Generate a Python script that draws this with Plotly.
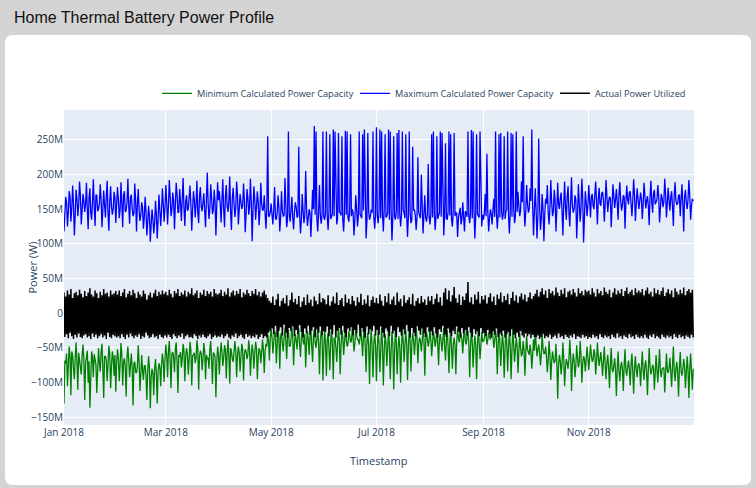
import pandas as pd
import plotly.graph_objects as go

PAGE_TITLE = "Home Thermal Battery Power Profile"
SERIES_NAMES = ["Minimum Calculated Power Capacity",
                "Maximum Calculated Power Capacity",
                "Actual Power Utilized"]
X_TITLE = "Timestamp"
Y_TITLE = "Power (W)"

# Maximum calculated power capacity, MW, reading at 00:00 each day (Jan .. Dec 2018)
max_capacity_mw = [
    118,168,125,176,132,184,112,178,140,190,128,172,146,188,121,180,135,193,126,170,150,186,124,177,138,191,119,183,142,175,130,
    182,137,189,124,176,148,194,129,171,140,187,118,179,133,160,122,168,112,155,103,150,115,162,108,171,126,180,132,
    185,128,192,140,174,121,188,145,179,133,195,126,170,150,184,119,176,138,191,130,182,147,173,124,203,136,186,143,178,112,189,
    176,131,193,124,185,146,197,120,181,139,190,128,172,150,187,117,179,142,194,104,183,135,176,127,188,148,170,122,255,140,
    158,128,182,135,170,118,176,140,195,124,262,132,168,121,160,138,240,115,172,130,205,126,150,110,178,270,262,118,185,129,262,
    135,262,120,258,140,265,262,128,260,145,255,118,263,262,132,258,150,112,170,125,262,140,258,265,108,260,135,150,262,122,
    268,130,265,262,118,258,140,265,262,105,255,135,260,264,125,262,145,258,110,262,130,240,150,120,225,138,200,115,170,132,215,
    128,258,262,120,255,140,262,260,112,245,135,262,258,125,260,145,110,150,128,160,118,145,262,130,264,262,108,258,140,262,125,
    135,172,230,118,150,128,165,262,122,258,260,135,255,148,262,115,260,258,130,262,175,140,190,255,125,185,145,180,265,112,
    180,108,252,120,172,104,165,185,128,192,140,178,118,188,150,174,112,190,135,183,125,196,145,170,108,186,132,194,102,176,140,
    185,138,172,150,190,128,181,155,175,132,192,146,168,124,186,152,179,135,189,148,170,122,184,157,176,140,193,133,180,150,
    174,136,188,151,169,127,191,145,178,160,185,131,172,153,194,138,181,148,176,126,189,157,170,140,186,118,178,150,192,135,165,
]
# Maximum calculated power capacity, MW, reading at 12:00 each day
max_capacity_noon_mw = [
    152,160,145,168,150,158,142,165,155,170,148,162,157,150,166,145,160,153,171,147,158,164,149,156,168,143,161,154,150,167,158,
    163,149,158,170,146,160,155,167,151,144,162,157,148,141,153,138,146,132,140,128,136,130,142,135,150,147,158,152,
    160,155,168,149,162,157,171,146,159,165,152,161,148,167,156,150,163,158,145,169,154,160,147,164,158,151,166,149,161,155,163,
    157,164,150,168,155,161,147,166,158,152,170,149,160,156,163,145,167,154,159,150,165,153,161,148,158,150,144,152,140,146,
    142,150,137,145,152,139,147,141,155,136,144,149,138,146,153,140,143,135,148,141,151,137,145,139,150,142,136,147,140,144,138,
    145,139,148,136,143,140,150,137,146,141,135,149,142,138,147,140,144,136,151,139,143,137,148,141,134,146,140,145,138,143,
    140,146,137,143,150,138,145,135,148,141,139,147,136,144,142,149,137,143,140,146,135,148,141,139,145,137,150,142,138,144,140,
    143,138,147,140,136,145,139,150,142,137,146,141,135,148,140,144,138,152,136,143,147,139,141,145,137,149,140,143,138,146,142,
    145,140,148,137,143,150,139,146,141,138,147,144,136,149,142,145,139,151,140,146,155,148,160,152,147,158,150,162,154,149,
    148,140,155,136,150,142,158,145,152,160,147,163,150,157,166,148,159,153,168,146,161,155,150,164,142,158,152,166,140,160,155,
    162,168,155,171,160,165,158,173,163,157,169,161,166,154,170,164,159,172,162,156,168,160,165,174,158,163,170,157,166,161,
    165,158,170,162,155,168,160,173,157,164,169,156,166,161,172,159,163,167,154,170,162,158,171,165,157,168,160,164,169,155,162,
]

# Minimum calculated power capacity, MW, reading at 00:00 each day
min_capacity_mw = [
    -130,-72,-105,-48,-118,-60,-95,-42,-110,-66,-88,-45,-125,-58,-100,-136,-55,-92,-70,-115,-50,-84,-44,-122,-62,-98,-47,-108,-55,-90,-113,
    -52,-98,-43,-104,-65,-120,-48,-92,-58,-133,-70,-86,-46,-112,-60,-96,-75,-125,-62,-137,-80,-118,-66,-130,-72,-105,-58,-99,
    -45,-92,-40,-108,-56,-85,-42,-115,-63,-78,-44,-98,-50,-88,-41,-104,-60,-72,-39,-110,-54,-82,-43,-95,-66,-80,-40,-102,-58,-121,-48,
    -88,-42,-76,-46,-94,-38,-101,-55,-70,-40,-92,-48,-84,-44,-97,-52,-66,-39,-90,-45,-80,-41,-95,-50,-72,-38,-86,-44,-30,-68,
    -22,-58,-25,-72,-20,-80,-28,-55,-21,-66,-24,-48,-20,-75,-30,-52,-22,-63,-20,-45,-78,-26,-60,-21,-70,-23,-50,-20,-88,-25,-97,
    -22,-90,-28,-82,-20,-95,-35,-70,-21,-88,-24,-60,-20,-48,-26,-42,-20,-55,-23,-38,-45,-21,-62,-20,-85,-28,-102,-22,-92,-30,
    -98,-24,-85,-20,-104,-30,-76,-22,-95,-26,-110,-21,-88,-33,-100,-20,-70,-25,-96,-22,-84,-28,-60,-20,-72,-35,-55,-21,-90,-27,-48,
    -22,-62,-26,-48,-20,-75,-30,-55,-21,-68,-24,-86,-20,-80,-35,-88,-22,-42,-28,-58,-20,-45,-25,-92,-21,-78,-32,-95,-20,-66,-27,
    -40,-22,-45,-28,-38,-20,-50,-24,-88,-21,-76,-30,-93,-20,-84,-26,-95,-22,-70,-35,-86,-28,-62,-40,-90,-32,-58,-45,-80,-38,
    -25,-62,-45,-75,-30,-58,-48,-85,-40,-96,-55,-72,-44,-123,-60,-88,-42,-105,-66,-80,-38,-112,-58,-92,-46,-78,-40,-100,-62,-84,-48,
    -82,-45,-70,-52,-88,-42,-76,-56,-90,-48,-95,-60,-108,-50,-85,-65,-119,-55,-98,-70,-112,-52,-90,-68,-104,-58,-116,-62,-92,-72,
    -105,-55,-96,-68,-118,-50,-88,-74,-110,-60,-100,-52,-92,-78,-114,-58,-86,-64,-106,-48,-98,-70,-120,-56,-90,-66,-108,-62,-122,-58,-110,
]
# Minimum calculated power capacity, MW, reading at 12:00 each day
min_capacity_noon_mw = [
    -68,-58,-75,-62,-55,-80,-64,-70,-57,-78,-61,-66,-72,-54,-69,-76,-63,-59,-74,-65,-71,-56,-79,-62,-67,-73,-58,-77,-64,-60,-70,
    -66,-74,-59,-70,-78,-63,-68,-75,-80,-72,-85,-77,-70,-88,-82,-76,-90,-84,-79,-92,-86,-80,-88,-83,-78,-74,-70,-66,
    -62,-55,-68,-58,-64,-52,-70,-60,-56,-66,-54,-63,-59,-67,-53,-61,-57,-65,-50,-62,-58,-66,-55,-60,-64,-52,-68,-57,-63,-70,-59,
    -60,-55,-64,-52,-58,-62,-50,-66,-56,-54,-61,-57,-63,-51,-59,-55,-60,-53,-62,-56,-58,-50,-64,-54,-57,-52,-55,-48,-40,-36,
    -35,-42,-30,-46,-38,-33,-44,-36,-40,-31,-47,-37,-34,-43,-39,-32,-45,-36,-41,-30,-44,-38,-35,-48,-33,-42,-37,-45,-40,-34,-50,
    -45,-38,-52,-41,-48,-36,-50,-43,-39,-47,-34,-42,-37,-44,-32,-40,-35,-43,-31,-38,-36,-42,-33,-46,-40,-48,-44,-51,-42,-47,
    -50,-44,-53,-46,-55,-42,-51,-47,-54,-45,-56,-43,-52,-48,-50,-41,-46,-44,-49,-40,-45,-38,-42,-36,-44,-39,-41,-35,-43,-37,-40,
    -38,-43,-35,-40,-45,-37,-42,-36,-46,-39,-48,-44,-50,-45,-47,-41,-36,-33,-38,-35,-40,-32,-44,-47,-42,-50,-45,-49,-43,-46,-41,
    -36,-32,-38,-34,-30,-35,-40,-37,-48,-43,-50,-46,-52,-44,-49,-47,-53,-45,-51,-48,-55,-50,-58,-53,-56,-52,-60,-55,-57,-54,
    -45,-52,-56,-60,-50,-58,-63,-66,-61,-70,-65,-68,-72,-75,-69,-73,-66,-78,-71,-67,-62,-74,-69,-76,-64,-70,-60,-72,-66,-68,-63,
    -64,-60,-67,-58,-70,-62,-66,-72,-68,-75,-71,-78,-74,-80,-76,-82,-79,-84,-77,-81,-75,-83,-78,-80,-73,-85,-79,-82,-76,-80,
    -78,-82,-75,-85,-80,-77,-83,-79,-86,-81,-76,-84,-80,-78,-87,-82,-79,-85,-77,-83,-80,-86,-78,-84,-81,-76,-85,-82,-79,-83,-80,
]

# Actual power utilized, MW: daily peak (read at 00:00) and daily trough (read at 12:00)
actual_high_mw = [
    30,24,33,27,35,22,29,31,26,34,28,23,32,25,30,36,27,24,33,29,22,31,26,35,28,30,24,33,27,29,32,
    27,33,25,30,35,23,28,32,26,34,29,22,31,27,24,33,28,20,26,30,23,29,34,25,31,27,33,28,
    31,26,34,28,23,32,29,35,25,30,27,33,24,31,28,36,26,29,33,22,30,27,34,25,32,28,31,24,35,29,27,
    29,34,25,31,27,36,24,30,33,26,32,28,35,23,30,27,34,29,25,32,28,35,26,31,24,30,33,27,22,18,
    15,24,12,20,28,10,18,22,14,26,11,19,30,16,21,13,25,9,17,23,12,27,15,20,10,24,18,13,29,16,22,
    20,13,26,11,17,24,14,30,12,19,22,10,27,15,21,13,25,18,11,23,16,28,12,20,14,26,10,19,24,15,
    22,14,27,18,11,25,16,29,13,20,24,12,30,17,21,10,26,15,19,23,13,28,11,18,22,14,25,16,20,12,24,
    18,25,13,21,28,16,23,11,30,36,20,33,17,26,38,22,15,27,12,24,19,29,45,16,23,13,27,20,31,14,25,
    20,26,14,23,29,17,24,12,27,21,30,16,25,19,28,13,22,31,18,26,15,24,29,20,27,17,23,30,21,25,
    28,34,24,31,36,27,33,22,35,29,32,26,37,30,25,34,28,36,23,31,33,27,35,30,24,36,29,32,26,34,31,
    33,27,36,30,24,35,29,32,26,37,31,28,34,23,30,36,27,33,29,35,25,32,37,28,31,34,26,36,30,33,
    30,35,26,33,37,28,31,24,36,29,34,27,32,37,25,30,35,28,33,23,36,31,27,34,29,37,26,32,35,30,34,
]
actual_low_mw = [
    -34,-30,-36,-28,-33,-37,-31,-35,-29,-34,-36,-32,-30,-35,-33,-37,-29,-34,-31,-36,-33,-30,-35,-32,-37,-28,-34,-36,-31,-33,-35,
    -33,-36,-30,-34,-37,-31,-35,-29,-33,-36,-32,-34,-30,-37,-33,-35,-28,-32,-36,-34,-30,-35,-33,-37,-31,-34,-36,-32,
    -35,-31,-34,-37,-30,-33,-36,-32,-34,-29,-37,-33,-31,-35,-34,-36,-30,-33,-37,-32,-35,-31,-34,-36,-33,-30,-37,-34,-32,-35,-33,
    -34,-31,-36,-33,-30,-35,-37,-32,-34,-29,-36,-33,-31,-35,-37,-30,-34,-32,-36,-33,-35,-31,-37,-34,-30,-36,-33,-35,-28,-25,
    -22,-30,-18,-34,-25,-20,-32,-16,-28,-35,-21,-26,-19,-33,-24,-30,-17,-27,-35,-22,-29,-18,-31,-25,-20,-34,-23,-28,-19,-32,-26,
    -27,-19,-33,-23,-30,-17,-35,-25,-21,-31,-18,-28,-34,-22,-26,-20,-32,-24,-29,-16,-33,-21,-27,-35,-19,-30,-23,-26,-18,-32,
    -24,-31,-19,-28,-35,-22,-26,-33,-18,-29,-25,-34,-20,-27,-32,-23,-30,-17,-26,-35,-21,-28,-33,-19,-25,-31,-22,-29,-34,-20,-27,
    -26,-32,-20,-29,-35,-23,-27,-18,-31,-34,-22,-28,-33,-25,-30,-19,-27,-35,-21,-29,-24,-32,-20,-28,-34,-23,-30,-26,-33,-21,-29,
    -28,-33,-24,-30,-35,-26,-31,-22,-34,-29,-32,-25,-35,-30,-27,-33,-23,-31,-36,-28,-34,-26,-32,-35,-29,-33,-30,-36,-31,-34,
    -35,-32,-37,-34,-30,-36,-33,-35,-31,-37,-34,-32,-36,-29,-35,-33,-37,-31,-34,-36,-32,-35,-30,-37,-33,-34,-36,-31,-35,-33,-37,
    -34,-36,-31,-35,-33,-37,-30,-34,-36,-32,-35,-33,-37,-31,-34,-36,-29,-35,-33,-37,-32,-34,-36,-30,-35,-33,-37,-31,-34,-36,
    -33,-36,-31,-35,-37,-32,-34,-30,-36,-33,-35,-37,-31,-34,-36,-32,-35,-33,-37,-30,-34,-36,-31,-35,-33,-37,-32,-34,-36,-31,-35,
]

MW = 1e6


def half_daily(first, second):
    """Pair each day's 00:00 reading with its 12:00 reading, in time order."""
    day_index = pd.date_range("2018-01-01", periods=len(first), freq="D")
    t, v = [], []
    for d, a, b in zip(day_index, first, second):
        t += [d, d + pd.Timedelta(hours=12)]
        v += [a * MW, b * MW]
    return t, v


min_t, min_v = half_daily(min_capacity_mw, min_capacity_noon_mw)
max_t, max_v = half_daily(max_capacity_mw, max_capacity_noon_mw)
act_t, act_v = half_daily(actual_high_mw, actual_low_mw)

fig = go.Figure()
fig.add_trace(go.Scatter(x=min_t, y=min_v, mode="lines", name=SERIES_NAMES[0],
                         legendwidth=153, line=dict(color="green", width=1.3)))
fig.add_trace(go.Scatter(x=max_t, y=max_v, mode="lines", name=SERIES_NAMES[1],
                         legendwidth=155, line=dict(color="blue", width=1.3)))
fig.add_trace(go.Scatter(x=act_t, y=act_v, mode="lines", name=SERIES_NAMES[2],
                         line=dict(color="black", width=1.5)))

# page geometry (pixels)
W, H = 756, 488
ML, MR, MT, MB = 64, 62, 110, 63
PW, PH = W - ML - MR, H - MT - MB


def fx(px):
    return (px - ML) / PW


def fy(py):
    return (H - MB - py) / PH


# white rounded card on grey page
cx0, cx1, cy0, cy1, r = 5, 751, 35, 485, 8
rx, ry = r / PW, r / PH
X0, X1, YT, YB = fx(cx0), fx(cx1), fy(cy0), fy(cy1)
card_path = (f"M {X0+rx},{YT} L {X1-rx},{YT} Q {X1},{YT} {X1},{YT-ry} "
             f"L {X1},{YB+ry} Q {X1},{YB} {X1-rx},{YB} L {X0+rx},{YB} "
             f"Q {X0},{YB} {X0},{YB+ry} L {X0},{YT-ry} Q {X0},{YT} {X0+rx},{YT} Z")

axis_title_font = dict(family='"Open Sans", verdana, arial, sans-serif', size=11, color="#2a3f5f")

fig.update_layout(
    width=W, height=H, autosize=False,
    margin=dict(l=ML, r=MR, t=MT, b=MB, pad=0),
    paper_bgcolor="#d4d4d4",
    plot_bgcolor="rgba(0,0,0,0)",
    font=dict(family='"Open Sans", verdana, arial, sans-serif', size=10, color="#2a3f5f"),
    shapes=[
        dict(type="path", xref="paper", yref="paper", path=card_path,
             fillcolor="white", line=dict(width=0), layer="below"),
        dict(type="rect", xref="paper", yref="paper", x0=0, x1=1, y0=0, y1=1,
             fillcolor="#E5ECF6", line=dict(width=0), layer="below"),
    ],
    annotations=[
        dict(text=PAGE_TITLE, xref="paper", yref="paper", x=fx(12), y=fy(18),
             xanchor="left", yanchor="middle", showarrow=False,
             font=dict(family="Liberation Sans, Arial, sans-serif", size=16, color="#111111")),
        dict(text=Y_TITLE, xref="paper", yref="paper", x=fx(32), y=0.5, textangle=-90,
             xanchor="center", yanchor="middle", showarrow=False, font=axis_title_font),
        dict(text=X_TITLE, xref="paper", yref="paper", x=0.5, y=fy(460),
             xanchor="center", yanchor="middle", showarrow=False, font=axis_title_font),
    ],
    legend=dict(orientation="h", x=fx(157), xanchor="left", y=1.007, yanchor="bottom",
                font=dict(size=9.2), bgcolor="rgba(0,0,0,0)"),
    xaxis=dict(type="date", range=["2018-01-01", "2018-12-31 23:00"], dtick="M2",
               tickformat="%b %Y", gridcolor="white", showline=False, zeroline=False,
               automargin=False),
    yaxis=dict(range=[-161e6, 293e6], dtick=50e6, tick0=0,
               gridcolor="white", zerolinecolor="white", zerolinewidth=2, automargin=False),
)

fig.write_html("out.html")
